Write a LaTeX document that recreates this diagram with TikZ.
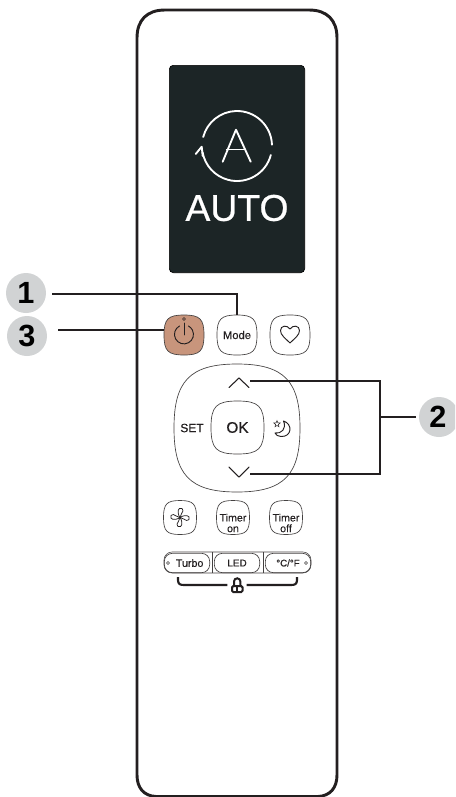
\documentclass[tikz,border=0pt]{standalone}
\usepackage{fontspec}
\setmainfont{Liberation Sans}
\newfontfamily\heavyfont[FakeBold=0.6]{Liberation Sans}
\newfontfamily\semifont[FakeBold=0.1]{Liberation Sans}
\usetikzlibrary{calc,shapes.geometric}
\definecolor{ink}{HTML}{231F20}
\definecolor{screen}{HTML}{1C2526}
\definecolor{badge}{HTML}{D1D3D4}
\definecolor{powerfill}{HTML}{C8957C}
\newcommand\sqshape{(0,-1) .. controls (.8,-1) and (1,-.8) .. (1,0) .. controls (1,.8) and (.8,1) .. (0,1) .. controls (-.8,1) and (-1,.8) .. (-1,0) .. controls (-1,-.8) and (-.8,-1) .. (0,-1) -- cycle}
% #1 name, #2 x, #3 y, #4 half width, #5 half height, #6 fill, #7 text
\newcommand\sqbtn[7]{%
  \begin{scope}[shift={(#2,#3)},xscale=#4,yscale=#5]
    \draw[btnline,fill=#6] \sqshape;
  \end{scope}
  \node[btntext,minimum width=#4*1.5pt,minimum height=#5*1.5pt] (#1) at (#2,#3) {#7};}
\tikzset{
  x=0.75pt,y=-0.75pt,
  btnline/.style={draw=ink!85,line width=0.5pt},
  btntext/.style={inner sep=0pt,align=center,text=ink,font=\semifont\fontsize{8}{8}\selectfont},
  leader/.style={draw=ink,line width=1.2pt},
  bracketline/.style={draw=ink,line width=1.6pt},
  badgenode/.style={circle,fill=badge,minimum size=30pt,inner sep=0pt,text=black,font=\fontsize{23}{23}\selectfont\bfseries},
  icon/.style={draw=ink,line width=0.7pt,line cap=round,line join=round},
  autoicon/.style={draw=white,line width=1.4pt,line cap=round,line join=round},
  pill/.style={btnline,rounded corners=6pt,minimum width=34pt,minimum height=14.5pt,inner sep=0pt,text=ink},
}
\begin{document}
\begin{tikzpicture}
\clip (0,0) rectangle (455,797);
\fill[white] (0,0) rectangle (455,797);
% body
\draw[draw=ink,line width=2.2pt] (137,38) .. controls (137,20) and (147,10) .. (165,10) -- (309,10) .. controls (327,10) and (337,20) .. (337,38) -- (337,775) .. controls (337,788) and (330,796) .. (318,796.5) -- (156,796.5) .. controls (144,796) and (137,788) .. (137,775) -- cycle;
% screen
\node[fill=screen,draw=black,line width=0.5pt,rounded corners=3pt,minimum width=101.5pt,minimum height=155.5pt,inner sep=0pt] (display) at (237,169) {};
\draw[autoicon] (237,146) ++(-2:35) arc[start angle=-2,end angle=-165,radius=35];
\draw[autoicon] (237,146) ++(15:35) arc[start angle=15,end angle=170,radius=35];
\draw[autoicon] (195.7,154) -- (201.7,146.7) -- (202.7,156);
\draw[autoicon] (222.7,161.7) -- (236,129.7) -- (250.7,161.7);
\draw[autoicon] (226.7,149.5) -- (245,149.5);
\node[text=white,inner sep=0pt,font=\heavyfont\fontsize{28}{28}\selectfont] (autotext) at (237,208) {AUTO};
% top buttons
\sqbtn{power}{184}{335}{20}{20}{powerfill}{}
\sqbtn{mode}{237}{335}{20}{20}{white}{\fontsize{8.4}{9}\selectfont Mode}
\sqbtn{fav}{290}{335}{20}{20}{white}{}
\draw[icon] (179.5,326) arc[start angle=-118,end angle=-422,radius=9.5];
\draw[icon] (184,323) -- (184,335);
\draw[icon,line width=0.35pt] (184,319) circle (1.5);
\draw[icon] (290,343) .. controls (285,338) and (280.5,335) .. (280.5,330.5) .. controls (280.5,325.5) and (287,324.5) .. (290,329) .. controls (293,324.5) and (299.5,325.5) .. (299.5,330.5) .. controls (299.5,335) and (295,338) .. (290,343) -- cycle;
% d-pad
\draw[btnline] (237,364) .. controls (285,364) and (300,382) .. (300,428) .. controls (300,474) and (285,492) .. (237,492) .. controls (189,492) and (174,474) .. (174,428) .. controls (174,382) and (189,364) .. (237,364) -- cycle;
\sqbtn{ok}{237.5}{427.5}{26.5}{26.5}{white}{\heavyfont\fontsize{11.5}{11}\selectfont OK}
\node[btntext,font=\heavyfont\fontsize{9}{9}\selectfont] (settext) at (192,428) {SET};
\coordinate (upbtn) at (250,381);
\coordinate (downbtn) at (250,474);
\draw[icon,line width=0.8pt] (229,387.5) -- (239,378) -- (249,387.5);
\draw[icon,line width=0.8pt] (229,467) -- (239,477) -- (249,467);
\draw[icon] (283.5,421) .. controls (293,424) and (292,437) .. (281,436.5) .. controls (278,436.5) and (276,435) .. (275,433) .. controls (281,434) and (287,429) .. (283.5,421) -- cycle;
\node[star,star points=5,star point ratio=2.2,draw=ink,line width=0.4pt,minimum size=5pt,inner sep=0pt] (sleepstar) at (277,424) {};
% lower buttons
\sqbtn{fan}{180}{517.5}{16.5}{17}{white}{}
\sqbtn{timeron}{233}{517.5}{16.5}{17}{white}{}
\sqbtn{timeroff}{286}{517.5}{16.5}{17}{white}{}
\node[btntext] (timerontext) at (233,523) {Timer\\on};
\node[btntext] (timerofftext) at (286,523) {Timer\\off};
\foreach \a in {0,90,180,270}{
  \draw[icon,line width=0.55pt,shift={(180,517.5)},rotate=\a,scale=1.2] (0,0) .. controls (-1.5,-2) and (-2.5,-6) .. (-0.5,-7.5) .. controls (1,-8.5) and (3,-7) .. (2.5,-5.5) .. controls (2,-4) and (0.5,-2.5) .. (0,0);
}
% bar
\draw[btnline,rounded corners=6pt,line width=0.4pt] (164,552) rectangle (311,573);
\draw[btnline,line width=0.4pt] (212,552) -- (212,573) (263,552) -- (263,573);
\node[pill,font=\semifont\fontsize{8}{8}\selectfont] (turbo) at (187,563) {\hspace{4pt}Turbo};
\node[pill,font=\semifont\fontsize{7.5}{8}\selectfont] (led) at (237,563) {LED};
\node[pill,font=\semifont\fontsize{7.3}{8}\selectfont] (unit) at (288,563) {°C/°F\hspace{2pt}};
\draw[btnline,line width=0.3pt] (168,563) circle (1.5) (306,563) circle (1.5);
% lock bracket
\node[inner sep=0pt,minimum size=14pt] (lock) at (237,585) {};
\coordinate (lockl) at (178,577);
\coordinate (lockr) at (297,577);
\draw[bracketline] (lockl) -- (178,580) .. controls (178,584) and (180,585) .. (184,585) -- (lock.west);
\draw[bracketline] (lockr) -- (297,580) .. controls (297,584) and (295,585) .. (291,585) -- (lock.east);
\draw[draw=ink,line width=1.5pt,rounded corners=1pt] (232,586) rectangle (242.5,592);
\draw[draw=ink,line width=1.5pt] (234,586) -- (234,581.5) arc[start angle=180,end angle=360,radius=3.2] -- (240.4,586);
\draw[draw=ink,line width=1.2pt] (237.2,586) -- (237.2,592);
% badges
\node[badgenode] (one) at (26,293) {1};
\node[badgenode] (three) at (27,336) {3};
\node[badgenode] (two) at (439,417) {};
\node[inner sep=0pt,text=black,font=\fontsize{23}{23}\selectfont\bfseries] (twotext) at (438,417) {2};
% leaders
\coordinate (s1) at (52,294);
\coordinate (s3) at (58,330);
\coordinate (j2) at (380,417);
\draw[leader] (s1) -| (mode.north);
\draw[leader] (s3) -- (s3 -| power.west);
\draw[leader] (upbtn) -| (j2) |- (downbtn);
\draw[leader] (j2) -- (416,417);
\end{tikzpicture}
\end{document}
